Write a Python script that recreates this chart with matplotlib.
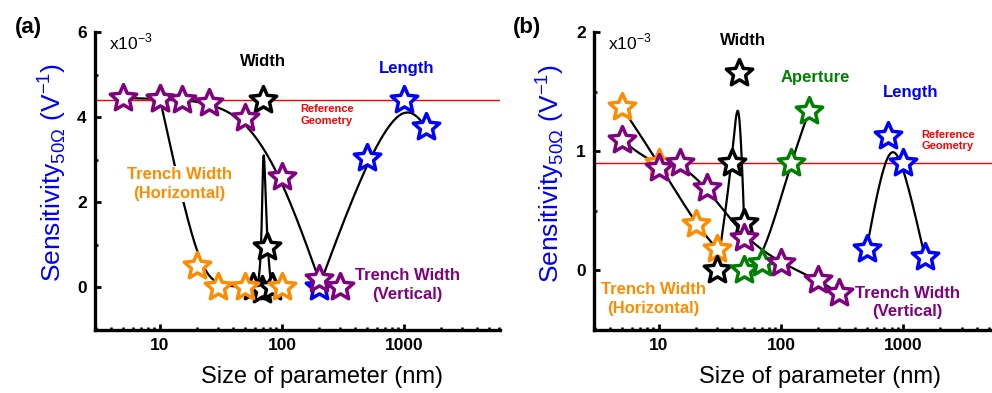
import numpy as np
import matplotlib
matplotlib.use('Agg')
import matplotlib.pyplot as plt
from matplotlib.path import Path
from matplotlib.ticker import FixedLocator, LogLocator, NullFormatter

plt.rcParams['font.family'] = ['Liberation Sans', 'DejaVu Sans']

# ---------------- panel (a) data (x in nm, y in 1e-3 V^-1) ----------------
a_hor_x = [10, 20, 30, 50, 100]
a_hor_y = [4.42, 0.5, 0.02, 0.02, 0.02]
a_ver_x = [5, 10, 15, 25, 50, 100, 200, 300]
a_ver_y = [4.45, 4.43, 4.41, 4.33, 3.98, 2.6, 0.2, 0.02]
a_wid_x = [58, 68, 70, 75, 82]
a_wid_y = [0.0, -0.05, 4.4, 0.96, 0.0]
a_len_x = [200, 500, 1000, 1500]
a_len_y = [0.0, 3.05, 4.4, 3.78]
a_ref = 4.41

# ---------------- panel (b) data ----------------
b_hor_x = [5, 10, 20, 30]
b_hor_y = [1.37, 0.90, 0.39, 0.18]
b_ver_x = [5, 10, 15, 25, 50, 100, 200, 300]
b_ver_y = [1.09, 0.86, 0.90, 0.69, 0.27, 0.06, -0.08, -0.19]
b_wid_x = [30, 40, 45, 50]
b_wid_y = [0.0, 0.90, 1.66, 0.40]
b_ape_x = [50, 70, 120, 170]
b_ape_y = [0.0, 0.06, 0.90, 1.34]
b_len_x = [500, 750, 1000, 1500]
b_len_y = [0.18, 1.13, 0.90, 0.11]
b_ref = 0.90

ORANGE = '#FF8C00'
PURPLE = '#800080'
BLUE = '#0000FF'
GREEN = '#008000'
RED = '#FF0000'

# fatter five-point star than matplotlib's '*'
ang = np.pi / 2 + np.arange(10) * np.pi / 5
rad = np.where(np.arange(10) % 2 == 0, 1.0, 0.46)
star_verts = np.column_stack([rad * np.cos(ang), rad * np.sin(ang)])
STAR = Path(np.vstack([star_verts, star_verts[:1]]), closed=True)


def bspline(x, y, n=60):
    # uniform cubic B-spline in log-x space, endpoints tripled so the curve hits them
    P = np.column_stack([np.log10(x), y])
    P = np.vstack([P[0], P[0], P, P[-1], P[-1]])
    t = np.linspace(0, 1, n)[:, None]
    b0 = (1 - t) ** 3 / 6
    b1 = (3 * t ** 3 - 6 * t ** 2 + 4) / 6
    b2 = (-3 * t ** 3 + 3 * t ** 2 + 3 * t + 1) / 6
    b3 = t ** 3 / 6
    pts = [b0 * P[i] + b1 * P[i + 1] + b2 * P[i + 2] + b3 * P[i + 3] for i in range(len(P) - 3)]
    pts = np.vstack(pts)
    return 10 ** pts[:, 0], pts[:, 1]


def curve(ax, x, y):
    cx, cy = bspline(x, y)
    ax.plot(cx, cy, color='black', lw=1.6, zorder=2)


def stars(ax, x, y, color, z):
    ax.plot(x, y, ls='none', marker=STAR, ms=20, mfc='white', mec=color, mew=2.5, zorder=z)


def style_axes(ax, xlim, ylim, ymaj, ymin):
    ax.set_xscale('log')
    ax.set_xlim(*xlim)
    ax.set_ylim(*ylim)
    for s in ['top', 'right']:
        ax.spines[s].set_visible(False)
    for s in ['left', 'bottom']:
        ax.spines[s].set_linewidth(2.4)
    ax.xaxis.set_major_locator(FixedLocator([10, 100, 1000]))
    ax.set_xticklabels(['10', '100', '1000'])
    ax.xaxis.set_minor_locator(LogLocator(base=10, subs=np.arange(2, 10)))
    ax.xaxis.set_minor_formatter(NullFormatter())
    ax.yaxis.set_major_locator(FixedLocator(ymaj))
    ax.yaxis.set_minor_locator(FixedLocator(ymin))
    ax.tick_params(axis='both', which='major', direction='in', length=4, width=2,
                   labelsize=12.5, pad=6)
    ax.tick_params(axis='both', which='minor', direction='in', length=2.5, width=1.8)
    for lab in ax.get_xticklabels() + ax.get_yticklabels():
        lab.set_fontweight('bold')
    ax.text(0.035, 0.965, r'x10$^{\mathregular{-3}}$', transform=ax.transAxes,
            fontsize=12.5, ha='left', va='center')


W, H = 992, 393
fig = plt.figure(figsize=(W / 100, H / 100), dpi=100)


def px_axes(l, r, top, bot):
    return fig.add_axes([l / W, 1 - bot / H, (r - l) / W, (bot - top) / H])


ax1 = px_axes(95, 500, 32, 330)
ax2 = px_axes(594, 992, 32, 330)

# ---------------- panel (a) ----------------
style_axes(ax1, (2.93, 6120), (-1, 6), [0, 2, 4, 6], [1, 3, 5])
ax1.axhline(a_ref, color=RED, lw=1.0, zorder=1)
curve(ax1, a_hor_x, a_hor_y)
curve(ax1, a_ver_x[:7], a_ver_y[:7])
curve(ax1, a_wid_x, a_wid_y)
curve(ax1, a_len_x, a_len_y)
stars(ax1, a_wid_x, a_wid_y, 'black', 3)
stars(ax1, a_hor_x, a_hor_y, ORANGE, 4)
stars(ax1, a_len_x, a_len_y, BLUE, 5)
stars(ax1, a_ver_x, a_ver_y, PURPLE, 6)

ax1.text(70, 5.3, 'Width', fontsize=12, fontweight='bold', ha='center', va='center')
ax1.text(1050, 5.15, 'Length', fontsize=12, fontweight='bold', color=BLUE, ha='center', va='center')
ax1.text(142, 4.05, 'Reference\nGeometry', fontsize=8, fontweight='bold', color=RED,
         ha='left', va='center', linespacing=1.2)
ax1.text(14.5, 2.43, 'Trench Width\n(Horizontal)', fontsize=12, fontweight='bold', color=ORANGE,
         ha='center', va='center', linespacing=1.3, zorder=7,
         bbox=dict(facecolor='white', edgecolor='none', pad=1))
ax1.text(1060, 0.06, 'Trench Width\n(Vertical)', fontsize=12, fontweight='bold', color=PURPLE,
         ha='center', va='center', linespacing=1.3, zorder=7)

# ---------------- panel (b) ----------------
style_axes(ax2, (2.96, 5300), (-0.5, 2), [0, 1, 2], [0.5, 1.5])
ax2.axhline(b_ref, color=RED, lw=1.0, zorder=1)
curve(ax2, b_hor_x, b_hor_y)
curve(ax2, b_ver_x, b_ver_y)
curve(ax2, b_wid_x, b_wid_y)
curve(ax2, b_ape_x, b_ape_y)
curve(ax2, b_len_x, b_len_y)
stars(ax2, b_hor_x, b_hor_y, ORANGE, 3)
stars(ax2, b_wid_x, b_wid_y, 'black', 4)
stars(ax2, b_ape_x, b_ape_y, GREEN, 5)
stars(ax2, b_len_x, b_len_y, BLUE, 5)
stars(ax2, b_ver_x, b_ver_y, PURPLE, 6)

ax2.text(49, 1.93, 'Width', fontsize=12, fontweight='bold', ha='center', va='center')
ax2.text(190, 1.62, 'Aperture', fontsize=12, fontweight='bold', color=GREEN, ha='center', va='center')
ax2.text(1150, 1.49, 'Length', fontsize=12, fontweight='bold', color=BLUE, ha='center', va='center')
ax2.text(1400, 1.09, 'Reference\nGeometry', fontsize=8, fontweight='bold', color=RED,
         ha='left', va='center', linespacing=1.2)
ax2.text(9.0, -0.24, 'Trench Width\n(Horizontal)', fontsize=12, fontweight='bold', color=ORANGE,
         ha='center', va='center', linespacing=1.3, zorder=7)
ax2.text(1080, -0.27, 'Trench Width\n(Vertical)', fontsize=12, fontweight='bold', color=PURPLE,
         ha='center', va='center', linespacing=1.3, zorder=7)

# ---------------- labels ----------------
ylab = r'Sensitivity$_{\mathregular{50\Omega}}$ (V$^{\mathregular{-1}}$)'
fig.text(52 / W, 1 - 172 / H, ylab, rotation=90, color=BLUE, fontsize=19, ha='center', va='center')
fig.text(550 / W, 1 - 173 / H, ylab, rotation=90, color=BLUE, fontsize=19, ha='center', va='center')
fig.text(322 / W, 1 - 377 / H, 'Size of parameter (nm)', fontsize=17, ha='center', va='center')
fig.text(820 / W, 1 - 377 / H, 'Size of parameter (nm)', fontsize=17, ha='center', va='center')
fig.text(28 / W, 1 - 27 / H, '(a)', fontsize=16, fontweight='bold', ha='center', va='center')
fig.text(527 / W, 1 - 27 / H, '(b)', fontsize=16, fontweight='bold', ha='center', va='center')

fig.savefig('out.png', dpi=100)
